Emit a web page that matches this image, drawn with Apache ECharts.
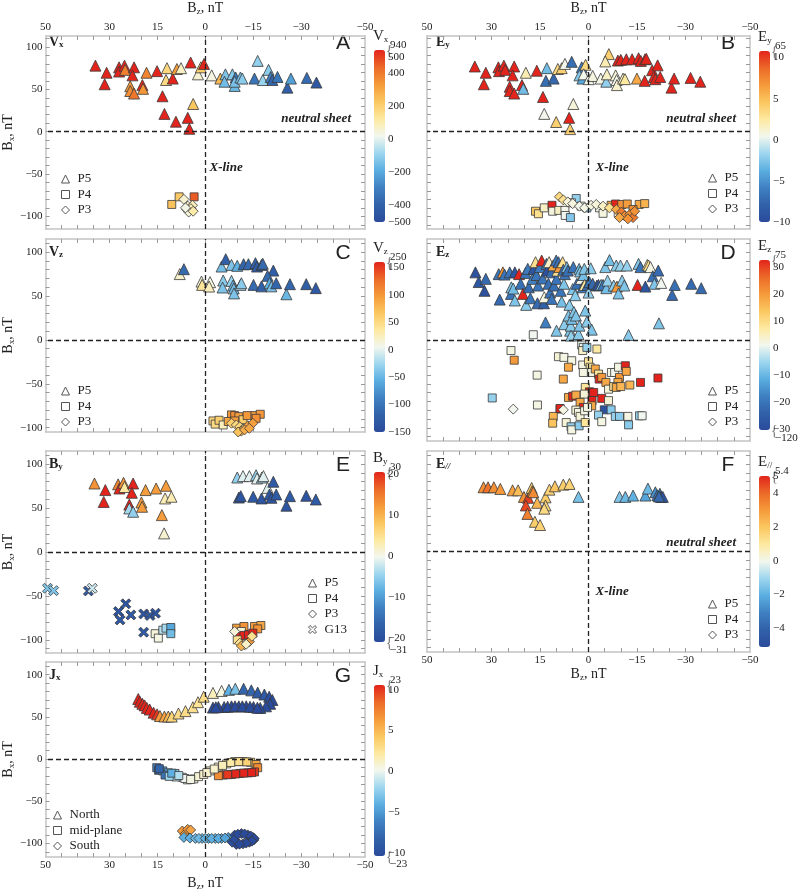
<!DOCTYPE html>
<html>
<head>
<meta charset="utf-8">
<script src="https://cdn.jsdelivr.net/npm/echarts@6/dist/echarts.min.js"></script>
<style>
html, body { margin: 0; padding: 0; background: #fff; }
#chart { width: 800px; height: 892px; }
</style>
</head>
<body>
<div id="chart"></div>
<script>
// axis ticks and labels (Bz on x, reversed; Bx on y)
const bzLabels = [50, 30, 15, 0, -15, -30, -50];
const bzTicks = [45, 40, 35, 30, 25, 20, 15, 10, 5, 0, -5, -10, -15, -20, -25, -30, -35, -40, -45];
const bxLabels = [100, 50, 0, -50, -100];
const bxTicks = [110, 100, 90, 80, 70, 60, 50, 40, 30, 20, 10, 0, -10, -20, -30, -40, -50, -60, -70, -80, -90, -100, -110];

// colorbar tick labels
const cbA = [500, 400, 200, 0, -200, -400, -500];
const cbB = [10, 5, 0, -5, -10];
const cbC = [150, 100, 50, 0, -50, -100, -150];
const cbD = [30, 20, 10, 0, -10, -20, -30];
const cbE = [20, 10, 0, -10, -20];
const cbF = [5, 4, 2, 0, -2, -4];
const cbG = [10, 5, 0, -5, -10];

// ---- data: [Bz, Bx, colour value] ----
// A : Vx
const aP5 = [[34.4,78,720],[30.9,69.6,650],[31.5,56,600],[27,76,700],[27,71,560],[25.3,78,620],[25.1,73,390],[22.3,76,680],[22.8,66.5,540],[23.5,53.6,330],[23.5,48,360],[22.3,45,410],[19.7,55,610],[19.5,50.6,340],[18.4,69.6,380],[15.1,71.5,590],[12,75,180],[12.3,61,170],[13.4,41.8,620],[12.8,21,700],[9.2,11.8,640],[10.2,62.7,560],[8.9,74,330],[7.6,75,80],[4.6,81.7,600],[5.5,16.3,660],[5,3.4,640],[3.8,32.7,230],[2.3,67.7,60],[1.4,76,210],[0.4,80,560],
  [-2,66.5,40],[-4.7,62.7,260],[-6.3,67.7,-130],[-6,59,-150],[-8.5,67.7,-120],[-9.5,64,-330],[-9.2,54,-160],[-9.2,59,-140],[-11,64,-140],[-11.6,62.7,-110],[-15.4,62.7,-330],[-16.4,83.6,-100],[-18,61,-90],[-19.8,73,-110],[-20.5,64.6,-300],[-21,61,-380],[-22.6,64.6,-320],[-25.7,52,-400],[-26.8,62.7,-220],[-31.8,63.5,-360],[-34.8,58,-440]];
const aP4 = [[10.5,-86,240],[8.2,-77,220],[3.5,-77,460]];
const aP3 = [[6.7,-80,60],[5.5,-88,70],[4,-87,90],[5.8,-92,40],[4.5,-91,100],[5.2,-95,50],[3.8,-94,110],[6.2,-90,30]];

// B : Ey
const bP5 = [[35.2,77,15],[31.8,69.6,14],[32.4,56,15],[27.9,76,15],[27.7,71.5,13],[26.2,78,15],[25.8,73,14],[23,77,15],[23.5,66.5,13],[24.4,53,15],[24.4,48,14],[23,45,15],[20.6,55,15],[20.2,50.6,-3],[19.4,69.6,2],[16,72,14],[12.9,75,-3],[13.2,60,-7],[10.8,62.7,-7.5],[14.1,41,15],[13.7,21,0.5],[10,11.4,4],[6,16.3,14],[5.7,3,4],[4.7,32.7,1],[9.5,74,3.5],[8.3,75,4],[7.3,80,0.5],[5.2,82.5,-7],[2.1,76,-6],[0.9,79,3.5],[2.8,66.5,-2.5],[1.9,62.7,-4],[1.5,67.7,0.5],
  [-0.1,62,0.5],[-1.3,65.8,0.8],[-3.8,62.7,0.6],[-5.5,59,-2],[-5.7,67.7,1.5],[-6.3,91.6,4],[-5.2,83,2],[-8.4,66.5,1],[-8.7,61,0.5],[-8.8,55,1.2],[-9.1,84,13],[-10.7,62.7,1.5],[-11.3,62,2.5],[-10,84.8,14],[-11.7,85.5,15],[-13.5,85.5,13],[-15,62.7,6],[-15.5,86.7,14],[-16.2,83.6,15],[-17.5,85.5,14],[-17.9,86,15],[-17.4,60,14],[-19.7,72.6,15],[-20.2,64.6,14],[-20.7,62,15],[-21.4,78.3,15],[-22.2,64.6,14],[-25.7,52,15],[-26.5,62.7,14],[-31.6,63.5,15],[-34.6,59,14]];
const bP4 = [[16.4,-94,4.5],[15.5,-97,3],[13.7,-90,1.5],[11.3,-87,15],[11.1,-94,0.8],[9.2,-93,1.5],[7.3,-93,0.5],[7.2,-99,0.3],[5.6,-101.5,-2.5],[3.8,-79,-2],[5.3,-84,0.5],[2.3,-88,0.4],[0.5,-90,-2],[-3.4,-90,0.6],[-7,-87,6],[-8.4,-85.5,12],[-10.3,-86,7],[-12,-85.5,6.5],[-15.7,-86,6],[-17.4,-85,5.5],[-13.8,-92,7],[-4.5,-96.5,0.8],[-9.2,-96,1]];
const bP3 = [[9,-77,3.5],[7.8,-80.6,3],[6.4,-83,1],[4.9,-85,0.8],[2.8,-88,0.5],[1.2,-90,0.6],[-0.8,-87,0.8],[-2.4,-86,1],[-4.5,-88,1.5],[-6.5,-90,3],[-8.6,-92,6],[-10.2,-95,8],[-11.2,-99.6,7],[-12.8,-97.7,7],[-13.8,-101.5,8],[-14.3,-94,7],[-9.6,-101.5,6],[-12.2,-103,7]];

// C : Vz
const cP5 = [[8,75,20],[6.7,80.6,-110],[1.2,66.5,15],[1,62.7,40],[-1.5,65.8,10],[-1.2,60.8,25],[-5.1,83.6,-45],[-6.4,92,-120],[-5.6,67.7,-35],[-5.4,59.7,-40],[-8.2,85.5,-40],[-10,84.4,-55],[-12,86.3,-115],[-13.5,86.3,-110],[-15.7,87.5,-120],[-16.2,83.6,-125],[-17.6,85.5,-115],[-18,86.7,-110],[-21.3,79,-125],[-19.5,73,-110],[-8.2,67.3,-30],[-8.7,62,-50],[-8.9,58.6,-45],[-9,53,-40],[-11,62.7,-20],[-11.3,64.6,-35],[-15.1,62.7,-110],[-17.6,61,-120],[-20.1,64.6,-55],[-20.7,61,-45],[-22.2,64.6,-115],[-25.4,52,-50],[-26.5,63.5,-115],[-31.6,63.5,-125],[-34.6,59,-130]];
const cP4 = [[-2.4,-92.4,55],[-3.1,-96,50],[-4.3,-91.6,60],[-5.6,-97,25],[-8.2,-85.5,100],[-9.2,-86.3,105],[-10.5,-87.5,95],[-11.8,-91,60],[-13.1,-86.3,100],[-15.6,-86.3,95],[-17.2,-84.8,100],[-15.9,-89.4,105],[-7.2,-93,90],[-9.2,-92.4,95]];
const cP3 = [[-8.2,-95,60],[-9.7,-97,50],[-10.8,-99,55],[-11.8,-101.5,30],[-13.3,-98,90],[-14.9,-95,95],[-11.3,-104,80],[-10.3,-105,70],[-12.3,-102.6,85],[-13.8,-100.8,90]];

// D : Ez
const dP5 = [[35,77,-28],[34,66,-27],[31.8,69.6,-22],[32.2,56,-28],[27.8,75,-20],[27.5,46,-22],[26.5,77,20],[26,74.5,-20],[24.4,77,-20],[23.9,60,-8],[24,52.5,-20],[23.3,58.6,-9],[22.8,45,-8],[22.8,77,-27],[21.5,75,40],[21,64,-21],[20.3,52.5,40],[19.5,76.4,-20],[19.3,40,-7],[18.8,81,-19],[18.5,60,-22],[18,47.5,-20],[17.4,69.6,-18],[17,81,-27],[16.4,88.6,9],[16.1,74,-20],[15.8,41.8,-22],[15.6,62,-20],[15.1,83,-19],[14.5,90.5,40],[14.2,70,-20],[13.8,41.8,-24],[13.7,48.7,2],[13.3,20,-18],[13,86.7,-20],[12.8,79,-28],[12.4,64,-21],[12.2,88.6,4],[11.9,54,-20],[11.6,77,-22],[11.4,46.8,-20],[10.9,85,18],[10.7,62,-21],[10,90.5,-19],[9.9,69.6,-20],[9.9,10.6,-8],[9.6,79,8],[9.3,88.6,-21],[9,83,20],[8.6,56,-20],[8.3,43.7,-9],[8,88.6,9],[7.8,80,-22],[7.6,64,-8],[7.5,18,-7],[7.3,75,-20],[6.7,83,-9],[6.4,79,-21],[6.2,27.8,-8],[5.9,40,-7],[5.7,10.6,-8],[5.5,16.3,-7],[5.4,5,-6],[5.2,24,-9],[4.9,58,-8],[4.7,83,-20],[4.5,32,-8],[4.1,51,-7],[3.9,27.8,-8],[3.6,64,-21],[3.1,6.8,-7],[2.9,81,-9],[2.8,16.3,-8],[2.6,78,-8],[2.3,69.6,1],[1.8,60,-20],[1.6,74,-9],[1.3,81,-8],[1.2,62.7,7],[1,33.5,-8],[0.5,21,-7],[0.3,62.7,-21],[0,54,-6],[-0.3,65.8,-20],[-0.7,81.7,-7],[-1,11.8,-8],[-1.3,64,-22],[-2.6,62,-20],[-3.1,62.7,-28],[-3.9,62.7,-8],[-4.5,62.7,-20],[-5.2,83,-8],[-5.5,59,-9],[-5.9,67.7,-6],[-6.5,91,-9],[-7.8,62,-7],[-8.6,84.8,-7],[-8.8,60.8,20],[-9.3,53,-8],[-9.9,84.8,-6],[-10.4,67.7,-7],[-11.1,62,-8],[-11.9,84.8,-6],[-12.4,5.7,-7],[-15.2,62.7,40],[-15.5,86.7,-8],[-16.1,83,-20],[-17.6,60.8,-27],[-18.2,85.5,8],[-18.6,84.8,9],[-19.2,83,2],[-19.9,72.6,-21],[-20.4,64,-8],[-21.6,79,-22],[-21.8,19,-8],[-22.5,65,1],[-25.9,51.3,-22],[-26.7,62.7,-21],[-31.8,64,-22],[-34.9,59,-22]];
const dP4 = [[17.1,6,1],[24,-12,2],[23,-23,20],[29.8,-66,-6],[15.9,-40,2],[15.8,-74,2],[9.3,-19,3],[7.6,-19.8,2],[5.2,-23.6,2],[2.1,-5.7,1],[1.6,-8.4,0],[1.8,-12,4],[0.5,-8.4,-6],[-2.6,-10.3,7],[7.8,-44.5,18],[6.2,-31,18],[1.8,-28.5,2],[0,-24.7,8],[-0.5,-31,7],[1.6,-37,2],[-1,-37,2],[-2.1,-33,18],[-3.1,-38.8,8],[-3.3,-44.5,40],[-4.1,-42.6,20],[-5.4,-48.3,18],[-6.2,-56,3],[-7.1,-37,2],[-8.1,-37,1],[-9.3,-31,2],[-9.6,-42.6,20],[-9.1,-48.3,18],[-7.8,-53,9],[-8.6,-54,18],[-10,-53,16],[-11.4,-29.3,40],[-11.7,-35.7,18],[-12.8,-51.3,16],[-16.1,-48.3,40],[-21.5,-43.3,40],[1,-54,8],[-0.3,-59,40],[-1.6,-59.7,40],[1.3,-61.6,3],[6.2,-65.4,18],[4.9,-64,40],[3.9,-62.7,18],[2.6,-71,18],[1.6,-76.8,40],[-1.1,-69,40],[-1,-74.9,18],[-4.1,-66.5,40],[-6.2,-69,3],[-4.9,-79.5,-28],[-7,-79.5,-7],[-3.1,-85.5,-6],[-4.1,-93,2],[-8.3,-87,-6],[-9.6,-87,-7],[-12.2,-87,2],[-15.8,-86.3,-6],[-16.6,-86.3,1],[-12.4,-96.6,-7],[8.8,-78.7,18],[3.9,-79.8,3],[3.1,-82.5,2],[2.6,-87,3],[1.2,-80.6,2],[0.3,-76.8,2],[10.9,-87,16],[11.1,-94.7,14],[6.9,-94,3],[5.4,-98.8,-6],[5.2,-102.3,2],[2.9,-97.7,-7],[1,-94,8],[8.8,-78,40]];
const dP3 = [[23.3,-78.7,1],[7.8,-79.5,2]];

// E : By
const eP5 = [[34.7,78,13],[31.3,70.5,22],[31.8,57,22],[27.3,77,14],[26.9,72.3,22],[25.6,78.8,13],[25.3,74,4],[22.6,78,22],[23,67.4,22],[23.8,54,22],[23.8,49.6,-4],[22.6,45.8,-5],[20,56.4,12],[19.8,51.5,12],[18.7,70.5,12],[15.4,72.3,12],[12.3,75.4,12],[12.6,61,3],[13.6,42,12],[12.9,21.2,1.5],[10.6,62.9,3],
  [-10,84.8,-5],[-11.8,86.4,-1],[-13.8,86.4,-1],[-15.9,87.5,-5],[-16.2,83.7,-1],[-17.7,84.8,-4],[-18.2,86.4,-1],[-19.5,73,-1],[-21.3,80,-18],[-10.5,62,-18],[-11.1,63.6,-19],[-15,62.9,-18],[-17.6,61,-19],[-20.1,65.5,-18],[-20.7,61.7,-19],[-22.2,65.5,-18],[-25.4,52.7,-19],[-26.5,63.6,-18],[-31.6,64,-19],[-34.6,59.8,-18]];
const eP4 = [[15.7,-93,1],[14.7,-98,0.5],[13.3,-89,-3],[12.3,-86.7,-4],[10.8,-86,-9],[10.8,-93,-7],[-9.8,-86.7,12],[-12.1,-84.8,13],[-15.4,-84.8,12],[-17.4,-83.7,11],[-16.4,-87.5,13],[-11.3,-90.5,1],[-10.5,-96,22],[-12.1,-95,22],[-13.5,-94.3,21],[-14.9,-92.4,22],[-10,-100,5]];
const eP3 = [[-10.8,-103.8,5],[-12.3,-105.7,4],[-13.8,-102,12],[-14.6,-96,5],[-11.3,-107,10],[-12.8,-105,2],[-9.2,-90.5,1]];
const eG13 = [[49.4,-41.3,-6],[47.5,-44,-6],[36.6,-44.3,-18],[35.4,-41.3,-2],[27.2,-67.8,-19],[26.7,-77.3,-18],[24.9,-59,-19],[23.3,-71.6,-18],[19.3,-70.5,-19],[17.3,-72.3,-18],[15.6,-69.7,-19],[19.3,-91.3,-18]];

// F : E parallel
const fP5 = [[32.5,73.5,3.2],[31.1,73.5,3.8],[29.3,73.5,3.2],[27.3,71.6,3],[23.5,70,2.8],[21.8,70,2.2],[20,62.5,3.2],[18.7,61.4,4.6],[19.4,52.7,4.5],[18.9,43,3.5],[17.6,72.7,1.8],[17.4,69,3],[17.1,67.8,3.3],[16.6,34,1.8],[15,30.3,1.6],[15.9,55.7,2.4],[13.3,62,1.8],[13.3,52.7,1.5],[13.7,49,1.4],[12.1,70.8,1.6],[10.4,74.6,2],[7.8,76.5,1.8],[5.9,77.3,1.6],[3.1,62.5,-1.6],[-9.6,62.5,-1.5],[-11.4,62.5,-1.8],[-13.8,64,-2],[-17.6,64,-2.3],[-18.4,72,-1.8],[-20.7,67.8,-2.8],[-21.3,64.4,-3.2],[-22.1,66,-3.5],[-22.5,62.5,-4.5],[-23,62.5,-4.8],[-21.8,63,-3.8]];

// G : Jx
const gNorth = [[21,71.2,12],[20.5,68,12],[19.7,65.5,11],[19,63.6,12],[18.3,60.6,11],[17.4,58.7,12],[16.2,55,11],[15.1,53,10],[14.2,51,6.5],[12.8,50.4,6],[11.6,50.4,5],[10.5,50.4,3.5],[8.4,54,3],[6.2,56.8,3],[3.9,61.4,2.8],[2.3,67.4,2.5],[0.5,73.9,3],[-2.4,78.4,1.5],[-5.1,80.7,0.5],[-7.4,82,-4],[-9.4,83.3,-3],[-12,83.3,-8],[-14.4,81.4,-8],[-16.4,78.8,-9],[-18.5,76.5,-9],[-20,73.9,-10],[-21,70,-11],[-20.3,65.5,-11],[-19,62.5,-11],[-17.2,60.6,-11],[-15.1,61.7,-11],[-12.8,62.5,-11],[-10.5,62.5,-11],[-8.2,62.5,-11],[-5.9,61.7,-11],[-4.1,61.7,-11],[-2.4,61,-11],[-3.3,61.4,-11],[-7,62,-11],[-9.3,62.5,-11],[-11.6,62.5,-11],[-14,62,-11],[-16.3,60.8,-11]];
const gMid = [[15.2,-10.2,-6],[14.6,-13.3,-8],[13.3,-14,-5],[11.6,-16.3,-4],[9.5,-17,-3],[7.2,-21.6,-0.5],[5.6,-24.6,0.3],[3.6,-23.5,0.5],[2.1,-20.8,0.8],[0.5,-18.2,1],[-1.5,-14,1],[-4.1,-9.5,1.2],[-6.7,-5.7,1.8],[-9.2,-3,2.5],[-11.8,-3,3],[-14.2,-3.8,4],[-15.9,-6.4,6],[-16.4,-10.2,7],[-15.4,-15.2,10],[-13.3,-16.3,11],[-10.8,-17,11],[-8.2,-18.2,10],[-5.6,-18.9,9],[-4.1,-19.7,7],[12.6,-18.9,-7],[14.4,-11.4,-8],[9.2,-21.2,-1],[11.3,-20.5,-2],[6.4,-23,0],[4.6,-24.2,0.4],[-0.5,-16,1],[-2.8,-11.8,1],[-5.4,-7.5,1.5],[-8,-4,2],[-10.5,-3,2.8],[-13,-3.3,3.5],[-14.5,-16,11],[-12,-16.6,11],[-9.5,-17.6,10.5],[-7,-18.5,10],[10.5,-16.7,-4],[8.3,-19.5,-1.5]];
const gSouth = [[7.2,-85.2,6.5],[6.4,-89,6],[5.5,-83.3,6.5],[4.6,-84,6],[6.7,-92.8,-4],[4.8,-93.6,-4],[3.1,-94,-3.5],[1,-94,-3.5],[-1,-94,-4],[-3.1,-94,-4],[-5.1,-94,-4.5],[-7.2,-92.8,-5],[-9.2,-90,-10],[-11.3,-88.3,-11],[-13.3,-89.8,-11],[-14.9,-92.8,-11],[-15.2,-95.8,-11],[-13.8,-98.5,-11],[-11.8,-100.4,-11],[-9.7,-101.1,-11],[-8.4,-98.5,-10],[-9.2,-95,-10],[2,-94,-3.5],[0,-94,-3.8],[-2,-94,-4],[-4.1,-94,-4.2],[-6.2,-93.5,-4.6],[-10.2,-89,-11],[-12.3,-88.7,-11],[-14.2,-91,-11],[-15.3,-94,-11],[-14.6,-97.2,-11],[-12.8,-99.5,-11],[-10.7,-100.8,-11]];

// ---- styles ----
const SERIF = '"Liberation Serif", "DejaVu Serif", serif';
const SANS = '"Liberation Sans", "DejaVu Sans", sans-serif';
const cmap = ['#2a4b9b', '#3161a9', '#3f80c2', '#5aaee0', '#9dd6ef', '#f2f7ee', '#fde9a0', '#fbc760', '#f59a3a', '#ec6a28', '#e3241c'];
const crossPath = 'path://M2,0 L5,3 L8,0 L10,2 L7,5 L10,8 L8,10 L5,7 L2,10 L0,8 L3,5 L0,2 Z';
const symbols = { P5: 'triangle', P4: 'rect', P3: 'diamond', G13: crossPath, North: 'triangle', 'mid-plane': 'rect', South: 'diamond' };
const sizes = { P5: 11, P4: 8, P3: 10, G13: 10, North: 11, 'mid-plane': 8, South: 10 };

const panels = [
  { id: 'A', rect: [40, 29, 325, 200], y: [-115, 113], top: true, left: true, bottom: false, head: ['V', 'x'],
    sets: [['P5', aP5], ['P4', aP4], ['P3', aP3]], leg: [61, 172],
    cb: { x: 374, y: 50, h: 172, min: -500, max: 542, labels: cbA, hi: '940', lo: null }, ns: true },
  { id: 'B', rect: [427, 29, 323, 200], y: [-115, 113], top: true, left: false, bottom: false, head: ['E', 'y'],
    sets: [['P5', bP5], ['P4', bP4], ['P3', bP3]], leg: [708, 171],
    cb: { x: 759, y: 51, h: 171, min: -10, max: 10.8, labels: cbB, hi: '65', lo: null }, ns: true },
  { id: 'C', rect: [40, 239, 325, 193], y: [-105, 115], top: false, left: true, bottom: false, head: ['V', 'z'],
    sets: [['P5', cP5], ['P4', cP4], ['P3', cP3]], leg: [61, 384],
    cb: { x: 374, y: 262, h: 170, min: -150, max: 160, labels: cbC, hi: '250', lo: null } },
  { id: 'D', rect: [427, 239, 323, 202], y: [-115, 115], top: false, left: false, bottom: false, head: ['E', 'z'],
    sets: [['P5', dP5], ['P4', dP4], ['P3', dP3]], leg: [708, 384],
    cb: { x: 759, y: 260, h: 170, min: -30.4, max: 32.5, labels: cbD, hi: '75', lo: '\u2212120' } },
  { id: 'E', rect: [40, 451, 325, 202], y: [-115, 115], top: false, left: true, bottom: false, head: ['B', 'y'],
    sets: [['P5', eP5], ['P4', eP4], ['P3', eP3], ['G13', eG13]], leg: [308, 576],
    cb: { x: 374, y: 472, h: 170, min: -20.9, max: 20.6, labels: cbE, hi: '30', lo: '\u221231' } },
  { id: 'F', rect: [427, 451, 323, 201], y: [-115, 115], top: false, left: false, bottom: true, head: ['E', '//'],
    sets: [['P5', fP5], ['P4', []], ['P3', []]], leg: [708, 597], gap: 14,
    cb: { x: 759, y: 476, h: 171, min: -5.1, max: 5, labels: cbF, hi: '5.4', lo: null }, ns: true },
  { id: 'G', rect: [40, 662, 325, 203], y: [-116, 115], top: false, left: true, bottom: true, head: ['J', 'x'],
    sets: [['North', gNorth], ['mid-plane', gMid], ['South', gSouth]], leg: [53, 808], gap: 18,
    cb: { x: 374, y: 685, h: 171, min: -10.4, max: 10.6, labels: cbG, hi: '23', lo: '\u221223' } }
];

function fmt(v) { return v < 0 ? '\u2212' + Math.abs(v) : String(v); }

const subRich = { s: { fontFamily: SERIF, fontSize: 9, color: '#222', padding: [7, 0, 0, 0] } };

function xAxisFor(i, pos, showLabel, withTitle, gap) {
  return {
    gridIndex: i, type: 'value', position: pos, min: -50, max: 50, inverse: true,
    name: withTitle ? 'B{s|z}, nT' : '', nameLocation: 'middle', nameGap: gap,
    nameTextStyle: { fontFamily: SERIF, fontSize: 14, color: '#222', rich: subRich },
    axisLine: { show: true, onZero: false, lineStyle: { color: '#c4c4c4', width: 1.5 } },
    axisTick: { show: true, inside: true, length: 4, customValues: bzTicks, lineStyle: { color: '#9a9a9a' } },
    axisLabel: { show: showLabel, customValues: bzLabels, formatter: fmt, margin: 3,
      fontFamily: SERIF, fontSize: 11, color: '#222' },
    splitLine: { show: false }
  };
}
function yAxisFor(i, pos, showLabel, yr) {
  return {
    gridIndex: i, type: 'value', position: pos, min: yr[0], max: yr[1],
    name: showLabel ? 'B{s|x}, nT' : '', nameLocation: 'middle', nameGap: 20,
    nameTextStyle: { fontFamily: SERIF, fontSize: 14, color: '#222', rich: subRich },
    axisLine: { show: true, onZero: false, lineStyle: { color: '#c4c4c4', width: 1.5 } },
    axisTick: { show: true, inside: true, length: 4, customValues: bxTicks, lineStyle: { color: '#9a9a9a' } },
    axisLabel: { show: showLabel, customValues: bxLabels, formatter: fmt, margin: 3,
      fontFamily: SERIF, fontSize: 11, color: '#222' },
    splitLine: { show: false }
  };
}

const option = {
  animation: false, backgroundColor: '#fff',
  grid: [], xAxis: [], yAxis: [], series: [], visualMap: [], legend: [], graphic: []
};

function txt(x, y, text, st) {
  return { type: 'text', x: x, y: y, silent: true, style: Object.assign({ text: text, fill: '#222', fontFamily: SERIF, fontSize: 13, align: 'left', verticalAlign: 'middle' }, st || {}) };
}

panels.forEach(function (p, i) {
  option.grid.push({ left: p.rect[0], top: p.rect[1], width: p.rect[2], height: p.rect[3], show: false });
  option.xAxis.push(xAxisFor(i, 'bottom', p.bottom, p.bottom, p.gap || 18));
  option.xAxis.push(xAxisFor(i, 'top', p.top, p.top, 20));
  option.yAxis.push(yAxisFor(i, 'left', p.left, p.y));
  option.yAxis.push(yAxisFor(i, 'right', false, p.y));

  const idx = [];
  p.sets.forEach(function (set, k) {
    idx.push(option.series.length);
    const s = {
      type: 'scatter', name: set[0], data: set[1], xAxisIndex: 2 * i, yAxisIndex: 2 * i,
      symbol: symbols[set[0]], symbolSize: sizes[set[0]],
      itemStyle: { borderColor: '#383838', borderWidth: 0.8, opacity: 1 },
      emphasis: { disabled: true }
    };
    if (k === 0) {
      s.markLine = {
        silent: true, symbol: ['none', 'none'], label: { show: false },
        lineStyle: { type: [5, 3], color: '#222', width: 1.3 },
        data: [{ xAxis: 0 }, { yAxis: 0 }]
      };
    }
    option.series.push(s);
  });

  option.visualMap.push({
    type: 'continuous', seriesIndex: idx, dimension: 2, min: p.cb.min, max: p.cb.max,
    inRange: { color: cmap }, left: p.cb.x, top: p.cb.y, itemWidth: 11, itemHeight: p.cb.h,
    padding: 0, calculable: false, hoverLink: false
  });

  option.legend.push({
    left: p.leg[0], top: p.leg[1], orient: 'vertical', padding: 0, itemGap: 1.5,
    itemWidth: 8, itemHeight: 8, selectedMode: false,
    textStyle: { fontFamily: SERIF, fontSize: 13, color: '#222', lineHeight: 14, padding: [0, 0, 0, 3] },
    data: p.sets.map(function (set) {
      return { name: set[0], icon: symbols[set[0]], itemStyle: { color: '#fff', borderColor: '#555', borderWidth: 1 } };
    })
  });

  // panel labels
  const gx = p.rect[0], gy = p.rect[1], gw = p.rect[2];
  option.graphic.push(txt(gx + 9, gy + 13, '{b|' + p.head[0] + '}{s|' + p.head[1] + '}', {
    rich: { b: { fontFamily: SERIF, fontSize: 14, fontWeight: 'bold', fill: '#222' },
            s: { fontFamily: SERIF, fontSize: 9, fontWeight: 'bold', fontStyle: p.id === 'F' ? 'italic' : 'normal', fill: '#222', padding: [6, 0, 0, 0] } }
  }));
  option.graphic.push(txt(gx + gw - 22, gy + 14, p.id, { fontFamily: SANS, fontSize: 21, align: 'center' }));

  if (p.ns) {
    const y0 = gy + p.rect[3] * p.y[1] / (p.y[1] - p.y[0]);
    option.graphic.push(txt(gx + gw - 14, y0 - 9, 'neutral sheet', { fontWeight: 'bold', fontStyle: 'italic', fontSize: 13, align: 'right' }));
    option.graphic.push(txt(gx + gw / 2 + 7, y0 + 40, 'X-line', { fontWeight: 'bold', fontStyle: 'italic', fontSize: 13 }));
  }

  // colorbar heading and extremes
  const cb = p.cb;
  option.graphic.push(txt(cb.x - 1, cb.y - 14, '{b|' + p.head[0] + '}{s|' + p.head[1] + '}', {
    rich: { b: { fontFamily: SERIF, fontSize: 15, fill: '#222' },
            s: { fontFamily: SERIF, fontSize: 9, fill: '#222', padding: [7, 0, 0, 0] } }
  }));
  if (cb.hi) {
    option.graphic.push(txt(cb.x + 12, cb.y + 1, '{', { fontSize: 14, fill: '#777' }));
    option.graphic.push(txt(cb.x + 16, cb.y - 5, cb.hi, { fontSize: 11 }));
  }
  if (cb.lo) {
    option.graphic.push(txt(cb.x + 12, cb.y + cb.h + 1, '{', { fontSize: 14, fill: '#777' }));
    option.graphic.push(txt(cb.x + 16, cb.y + cb.h + 8, cb.lo, { fontSize: 11 }));
  }
});

// colorbar label axes
panels.forEach(function (p, j) {
  const gi = panels.length + j;
  option.grid.push({ left: p.cb.x, top: p.cb.y, width: 11, height: p.cb.h, show: false });
  option.xAxis.push({ gridIndex: gi, type: 'value', show: false, min: 0, max: 1 });
  option.yAxis.push({
    gridIndex: gi, type: 'value', position: 'right', min: p.cb.min, max: p.cb.max,
    axisLine: { show: false }, axisTick: { show: false }, splitLine: { show: false },
    axisLabel: { customValues: p.cb.labels, formatter: fmt, margin: 3, fontFamily: SERIF, fontSize: 11, color: '#222' }
  });
});

const chart = echarts.init(document.getElementById('chart'));
chart.setOption(option);
</script>
</body>
</html>
